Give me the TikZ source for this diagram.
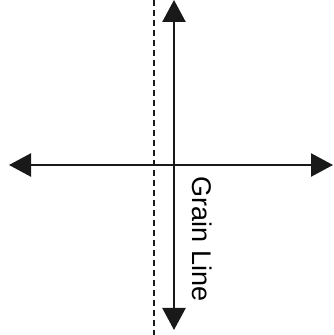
\documentclass[tikz,border=0pt]{standalone}
\usepackage{fontspec}
\setmainfont{Liberation Sans}
\usetikzlibrary{arrows.meta}

\begin{document}
\begin{tikzpicture}[
    x=1pt, y=1pt,
    axis/.style={{Triangle[width=23pt, length=22pt]}-{Triangle[width=23pt, length=22pt]}, line width=2.4pt, black!90},
    foldline/.style={line width=2.4pt, dash pattern=on 6pt off 4pt, black!90},
    grainlabel/.style={font=\fontsize{27}{30}\selectfont, rotate=-90, inner sep=0pt}
]
    \useasboundingbox (0,0) rectangle (334,335);

    % End points
    \coordinate (top) at (174,335);
    \coordinate (bottom) at (174,5);
    \coordinate (left) at (9,170);
    \coordinate (right) at (333,170);
    \coordinate (dtop) at (154,335);
    \coordinate (dbottom) at (154,0);

    % Label
    \node[grainlabel] (grain) at (202,96) {Grain Line};

    % Lines
    \draw[foldline] (dtop) -- (dbottom);
    \draw[axis] (top) -- (bottom);
    \draw[axis] (left) -- (right);

\end{tikzpicture}
\end{document}
